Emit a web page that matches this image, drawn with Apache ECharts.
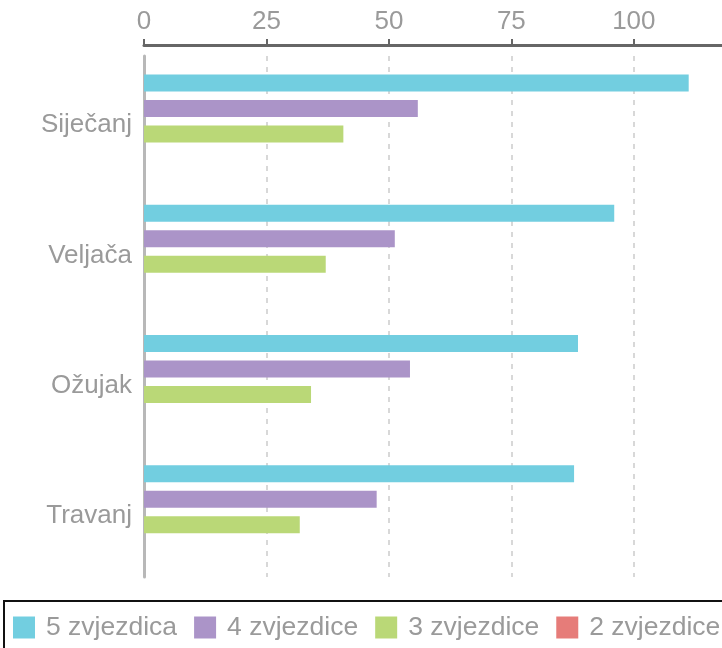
<!DOCTYPE html>
<html>
<head>
<meta charset="utf-8">
<script src="https://cdn.jsdelivr.net/npm/echarts@6/dist/echarts.min.js"></script>
<style>
  html, body { margin: 0; padding: 0; background: #fff; }
  #chart { width: 722px; height: 648px; }
</style>
</head>
<body>
<div id="chart"></div>
<script>
var months = ['Siječanj', 'Veljača', 'Ožujak', 'Travanj'];
var seriesNames = ['5 zvjezdica', '4 zvjezdice', '3 zvjezdice', '2 zvjezdice'];
var fiveStars = [111.2, 96.0, 88.6, 87.8];
var fourStars = [55.9, 51.2, 54.3, 47.5];
var threeStars = [40.7, 37.1, 34.1, 31.8];
var twoStars = [0, 0, 0, 0];
var colors = ['#72cee0', '#ab94c8', '#bad877', '#e67c79'];

var textGrey = '#9a9a9a';
var font = 'Liberation Sans, Arial, sans-serif';

var myChart = echarts.init(document.getElementById('chart'));

var allData = [fiveStars, fourStars, threeStars, twoStars];
var series = [];
for (var i = 0; i < seriesNames.length; i++) {
    series.push({
        name: seriesNames[i],
        type: 'bar',
        data: allData[i],
        barWidth: 17,
        barGap: '50%',
        itemStyle: { color: colors[i] },
        silent: true
    });
}

var option = {
    animation: false,
    textStyle: { fontFamily: font },
    grid: {
        left: 144,
        right: 0,
        top: 56,
        bottom: 71
    },
    legend: {
        left: 4,
        top: 601,
        width: 800,
        padding: [13, 40, 30, 9],
        borderColor: '#111',
        borderWidth: 2,
        itemWidth: 22,
        itemHeight: 22,
        itemGap: 17,
        icon: 'rect',
        data: seriesNames,
        textStyle: {
            color: textGrey,
            fontSize: 26.5,
            fontFamily: font,
            padding: [0, 0, 0, 6]
        }
    },
    xAxis: {
        type: 'value',
        position: 'top',
        offset: 11,
        min: 0,
        max: 118,
        interval: 25,
        axisLine: {
            show: true,
            lineStyle: { color: '#666', width: 3 }
        },
        axisTick: {
            show: true,
            length: 6,
            lineStyle: { color: '#666', width: 2 }
        },
        axisLabel: {
            color: textGrey,
            fontSize: 26,
            margin: 10,
            showMaxLabel: false
        },
        splitLine: {
            show: true,
            showMaxLine: false,
            lineStyle: { color: '#cccccc', type: [5, 6], width: 1.5 }
        }
    },
    yAxis: {
        type: 'category',
        inverse: true,
        data: months,
        axisLine: {
            show: true,
            lineStyle: { color: '#b8b8b8', width: 3 }
        },
        axisTick: { show: false },
        axisLabel: {
            color: textGrey,
            fontSize: 26,
            margin: 12,
            formatter: '{m|{value}}',
            rich: {
                m: { fontSize: 26, color: textGrey, padding: [8, 0, 0, 0] }
            }
        }
    },
    series: series
};

myChart.setOption(option);
</script>
</body>
</html>
